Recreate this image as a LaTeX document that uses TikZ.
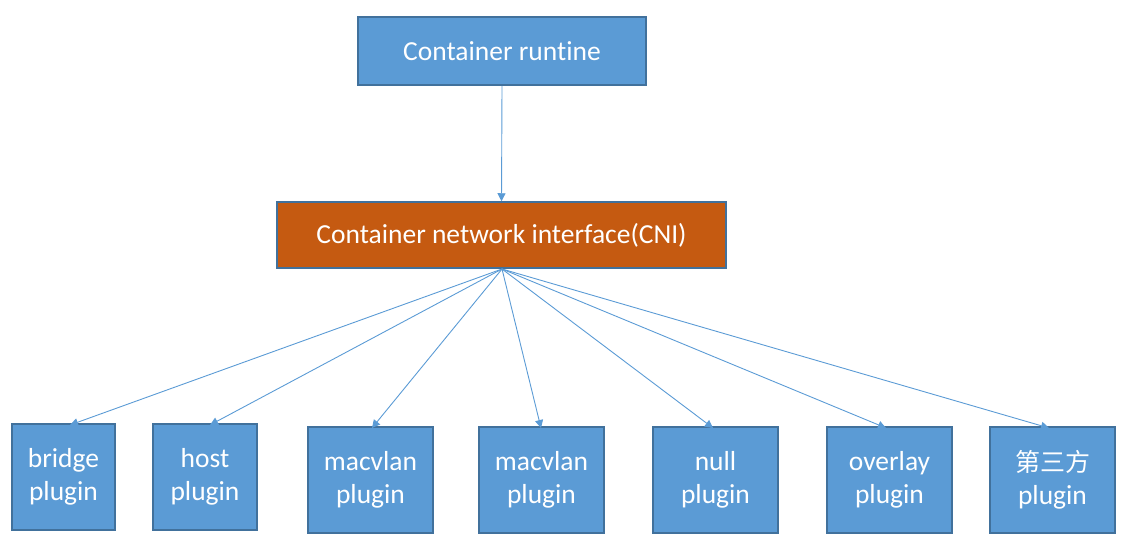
\documentclass[tikz,border=0pt]{standalone}
\usepackage{fontspec}
\setmainfont[Ligatures={NoCommon}]{Carlito}
\newfontfamily\cjk{Noto Sans CJK SC}
\usetikzlibrary{arrows.meta}
\definecolor{boxblue}{HTML}{5B9BD5}
\definecolor{boxedge}{HTML}{41719C}
\definecolor{cniorange}{HTML}{C55A11}
\definecolor{arrowblue}{HTML}{5B9BD5}
\tikzset{
  bx/.style={draw=boxedge, line width=1.5pt, fill=boxblue, text=white, inner sep=0pt, align=center, font=\fontsize{27.5}{33}\selectfont},
  conn/.style={draw=arrowblue, line width=0.9pt, -{Triangle[length=8pt,width=8pt]}}
}
\begin{document}
\begin{tikzpicture}[x=1pt,y=-1pt]
\useasboundingbox (0,0) rectangle (1126,544);
\node[bx, minimum width=288pt, minimum height=68pt] (rt) at (502,51) {Container runtine};
\node[bx, fill=cniorange, minimum width=449pt, minimum height=66pt] (cni) at (501.5,235) {Container network interface(CNI)};
\node[bx, minimum width=103pt, minimum height=106pt] (b1) at (63.5,477) {bridge\\plugin};
\node[bx, minimum width=104pt, minimum height=106pt] (b2) at (205,477) {host\\plugin};
\node[bx, minimum width=125pt, minimum height=106pt] (b3) at (370.5,480) {macvlan\\plugin};
\node[bx, minimum width=125pt, minimum height=106pt] (b4) at (541.5,480) {macvlan\\plugin};
\node[bx, minimum width=125pt, minimum height=106pt] (b5) at (715.5,480) {null\\plugin};
\node[bx, minimum width=125pt, minimum height=106pt] (b6) at (889.5,480) {overlay\\plugin};
\node[bx, minimum width=125pt, minimum height=106pt] (b7) at (1052.5,480) {{\cjk\fontsize{25}{33}\selectfont 第三方}\\plugin};
\coordinate (c0) at (502,269);
\draw[conn] (rt.south) -- (cni.north);
\draw[conn] (c0) -- (70,425);
\draw[conn] (c0) -- (210,425);
\draw[conn] (c0) -- (372,428);
\draw[conn] (c0) -- (541,428);
\draw[conn] (c0) -- (713,428);
\draw[conn] (c0) -- (886,428);
\draw[conn] (c0) -- (1049,428);
\end{tikzpicture}
\end{document}
